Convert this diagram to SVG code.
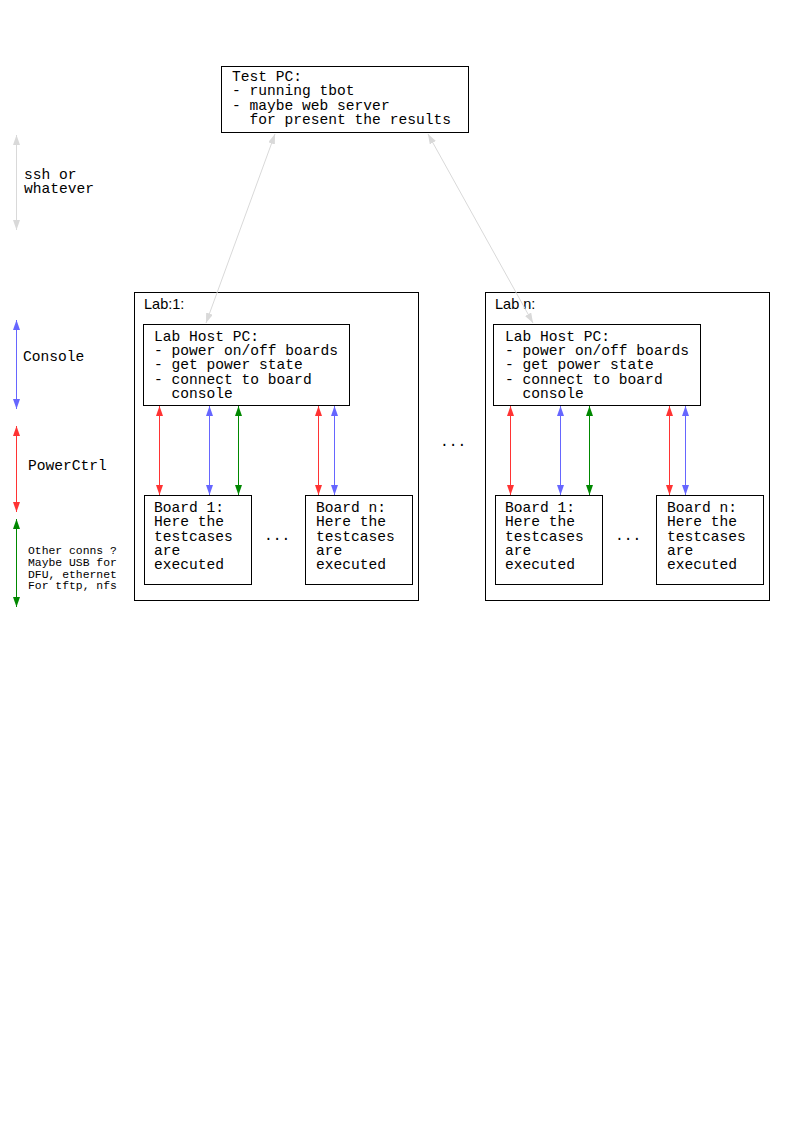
<svg xmlns="http://www.w3.org/2000/svg" width="794" height="1123" viewBox="0 0 794 1123" xml:space="preserve">
  <style>
    text { white-space: pre; }
    .box { fill: #ffffff; stroke: #000000; stroke-width: 1; }
    .mono { font-family: "Liberation Mono", "Courier New", monospace; font-size: 14.6px; fill: #000000; }
    .small { font-family: "Liberation Mono", "Courier New", monospace; font-size: 11.4px; fill: #000000; }
    .sans { font-family: "Liberation Sans", Arial, sans-serif; font-size: 14.5px; fill: #000000; }
    .gray { stroke: #d9d9d9; stroke-width: 1; fill: none; marker-start: url(#ahGray); marker-end: url(#ahGray); }
    .red { stroke: #ff3333; stroke-width: 1; fill: none; marker-start: url(#ahRed); marker-end: url(#ahRed); }
    .blue { stroke: #6666ff; stroke-width: 1; fill: none; marker-start: url(#ahBlue); marker-end: url(#ahBlue); }
    .green { stroke: #008800; stroke-width: 1; fill: none; marker-start: url(#ahGreen); marker-end: url(#ahGreen); }
  </style>
  <defs>
    <marker id="ahGray" viewBox="0 0 10 7" refX="10" refY="3.5" markerWidth="10" markerHeight="7" markerUnits="userSpaceOnUse" orient="auto-start-reverse">
      <path d="M0,0 L10,3.5 L0,7 z" fill="#d9d9d9"/>
    </marker>
    <marker id="ahRed" viewBox="0 0 10 7" refX="10" refY="3.5" markerWidth="10" markerHeight="7" markerUnits="userSpaceOnUse" orient="auto-start-reverse">
      <path d="M0,0 L10,3.5 L0,7 z" fill="#ff3333"/>
    </marker>
    <marker id="ahBlue" viewBox="0 0 10 7" refX="10" refY="3.5" markerWidth="10" markerHeight="7" markerUnits="userSpaceOnUse" orient="auto-start-reverse">
      <path d="M0,0 L10,3.5 L0,7 z" fill="#6666ff"/>
    </marker>
    <marker id="ahGreen" viewBox="0 0 10 7" refX="10" refY="3.5" markerWidth="10" markerHeight="7" markerUnits="userSpaceOnUse" orient="auto-start-reverse">
      <path d="M0,0 L10,3.5 L0,7 z" fill="#008800"/>
    </marker>
  </defs>

  <rect width="794" height="1123" fill="#ffffff"/>

  <!-- legend -->
  <g id="legend">
    <line class="gray" x1="16.5" y1="135" x2="16.5" y2="230"/>
    <text class="mono" x="24" y="179">ssh or</text>
    <text class="mono" x="24" y="193">whatever</text>
    <line class="blue" x1="16.5" y1="320" x2="16.5" y2="409"/>
    <text class="mono" x="23" y="361">Console</text>
    <line class="red" x1="16.5" y1="426" x2="16.5" y2="512"/>
    <text class="mono" x="28" y="470">PowerCtrl</text>
    <line class="green" x1="16.5" y1="519" x2="16.5" y2="607"/>
    <text class="small" x="28" y="554">Other conns ?</text>
    <text class="small" x="28" y="566">Maybe USB for</text>
    <text class="small" x="28" y="578">DFU, ethernet</text>
    <text class="small" x="28" y="589">For tftp, nfs</text>
  </g>

  <!-- test PC -->
  <g id="test-pc">
    <rect class="box" x="221.5" y="66.5" width="247" height="66"/>
    <text class="mono" x="232" y="80.5">Test PC:</text>
    <text class="mono" x="232" y="95">- running tbot</text>
    <text class="mono" x="232" y="109.5">- maybe web server</text>
    <text class="mono" x="232" y="124">  for present the results</text>
  </g>

  <!-- lab 1 -->
  <g id="lab-1">
    <rect class="box" x="134.5" y="292.5" width="284" height="308"/>
    <text class="sans" x="144" y="309">Lab:1:</text>
  </g>
  <g id="lab-1-host">
    <rect class="box" x="143.5" y="324.5" width="206" height="81"/>
    <text class="mono" x="154" y="340.5">Lab Host PC:</text>
    <text class="mono" x="154" y="355">- power on/off boards</text>
    <text class="mono" x="154" y="369">- get power state</text>
    <text class="mono" x="154" y="383.5">- connect to board</text>
    <text class="mono" x="154" y="397.5">  console</text>
  </g>
  <g id="lab-1-board-1">
    <rect class="box" x="144.5" y="495.5" width="107" height="89"/>
    <text class="mono" x="154" y="512">Board 1:</text>
    <text class="mono" x="154" y="526">Here the</text>
    <text class="mono" x="154" y="540.5">testcases</text>
    <text class="mono" x="154" y="555">are</text>
    <text class="mono" x="154" y="569">executed</text>
  </g>
  <text class="mono" x="264" y="540">...</text>
  <g id="lab-1-board-n">
    <rect class="box" x="305.5" y="495.5" width="107" height="89"/>
    <text class="mono" x="316" y="512">Board n:</text>
    <text class="mono" x="316" y="526">Here the</text>
    <text class="mono" x="316" y="540.5">testcases</text>
    <text class="mono" x="316" y="555">are</text>
    <text class="mono" x="316" y="569">executed</text>
  </g>

  <text class="mono" x="440" y="446">...</text>

  <!-- lab n -->
  <g id="lab-n">
    <rect class="box" x="485.5" y="292.5" width="284" height="308"/>
    <text class="sans" x="495" y="309">Lab n:</text>
  </g>
  <g id="lab-n-host">
    <rect class="box" x="493.5" y="324.5" width="207" height="81"/>
    <text class="mono" x="505" y="340.5">Lab Host PC:</text>
    <text class="mono" x="505" y="355">- power on/off boards</text>
    <text class="mono" x="505" y="369">- get power state</text>
    <text class="mono" x="505" y="383.5">- connect to board</text>
    <text class="mono" x="505" y="397.5">  console</text>
  </g>
  <g id="lab-n-board-1">
    <rect class="box" x="495.5" y="495.5" width="107" height="89"/>
    <text class="mono" x="505" y="512">Board 1:</text>
    <text class="mono" x="505" y="526">Here the</text>
    <text class="mono" x="505" y="540.5">testcases</text>
    <text class="mono" x="505" y="555">are</text>
    <text class="mono" x="505" y="569">executed</text>
  </g>
  <text class="mono" x="615" y="540">...</text>
  <g id="lab-n-board-n">
    <rect class="box" x="656.5" y="495.5" width="107" height="89"/>
    <text class="mono" x="667" y="512">Board n:</text>
    <text class="mono" x="667" y="526">Here the</text>
    <text class="mono" x="667" y="540.5">testcases</text>
    <text class="mono" x="667" y="555">are</text>
    <text class="mono" x="667" y="569">executed</text>
  </g>

  <!-- connectors -->
  <g id="connectors">
    <line class="gray" x1="275" y1="134" x2="206" y2="323"/>
    <line class="gray" x1="428" y1="134" x2="533" y2="323"/>

    <line class="red" x1="159.5" y1="406" x2="159.5" y2="495"/>
    <line class="blue" x1="209.5" y1="406" x2="209.5" y2="495"/>
    <line class="green" x1="238.5" y1="406" x2="238.5" y2="495"/>
    <line class="red" x1="318.5" y1="406" x2="318.5" y2="495"/>
    <line class="blue" x1="334.5" y1="406" x2="334.5" y2="495"/>

    <line class="red" x1="510.5" y1="406" x2="510.5" y2="495"/>
    <line class="blue" x1="560.5" y1="406" x2="560.5" y2="495"/>
    <line class="green" x1="589.5" y1="406" x2="589.5" y2="495"/>
    <line class="red" x1="669.5" y1="406" x2="669.5" y2="495"/>
    <line class="blue" x1="685.5" y1="406" x2="685.5" y2="495"/>
  </g>
</svg>
